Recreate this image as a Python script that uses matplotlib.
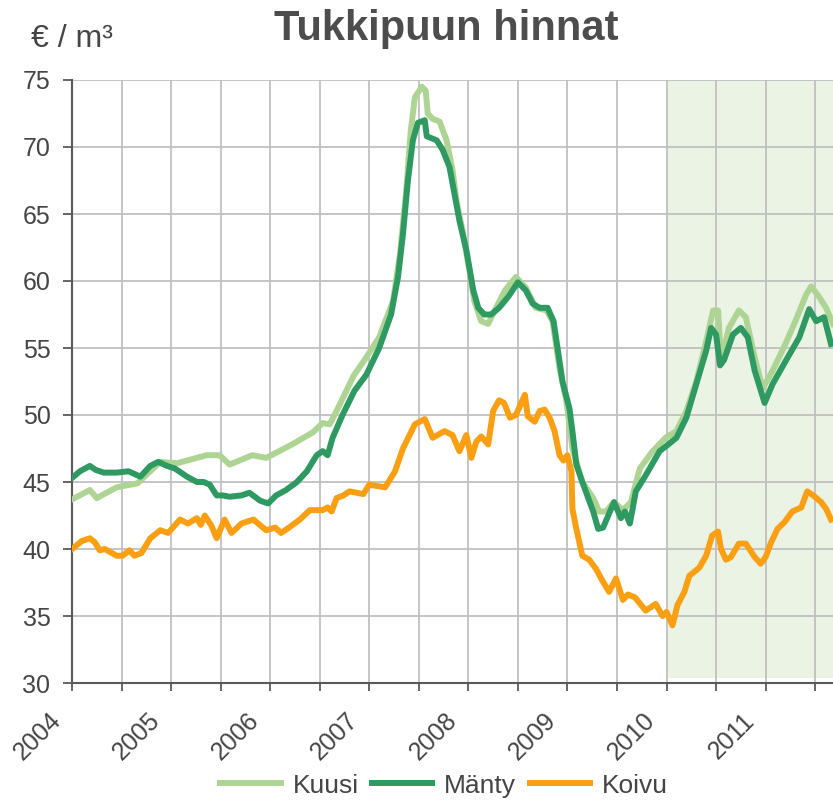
import matplotlib
matplotlib.use('Agg')
import matplotlib.pyplot as plt
from matplotlib.transforms import ScaledTranslation, blended_transform_factory

plt.rcParams['font.family'] = ['Liberation Sans', 'DejaVu Sans']

# Kuusi (spruce)
kuusi_t = [2004.0, 2004.18, 2004.25, 2004.45, 2004.66, 2004.89, 2005.06, 2005.36, 2005.49, 2005.59,
           2005.82, 2005.96, 2006.22, 2006.43, 2006.53, 2006.6, 2006.67, 2006.84, 2006.97, 2007.10,
           2007.24, 2007.31, 2007.37, 2007.42, 2007.46, 2007.53, 2007.57, 2007.59, 2007.64, 2007.71,
           2007.78, 2007.84, 2007.88, 2007.94, 2008.01, 2008.06, 2008.13, 2008.20, 2008.28, 2008.37,
           2008.48, 2008.58, 2008.68, 2008.79, 2008.85, 2008.92, 2008.99, 2009.05, 2009.15, 2009.26,
           2009.32, 2009.39, 2009.47, 2009.56, 2009.64, 2009.73, 2009.86, 2009.99, 2010.10, 2010.20,
           2010.30, 2010.40, 2010.47, 2010.52, 2010.55, 2010.63, 2010.73, 2010.80, 2010.89, 2010.97,
           2011.07, 2011.20, 2011.30, 2011.41, 2011.46, 2011.54, 2011.61, 2011.68]
kuusi_v = [43.7, 44.4, 43.8, 44.6, 44.9, 46.5, 46.4, 47.0, 47.0, 46.3,
           47.0, 46.8, 47.8, 48.7, 49.4, 49.3, 50.3, 52.9, 54.3, 55.8,
           58.5, 62.0, 66.5, 71.3, 73.7, 74.5, 74.2, 72.5, 72.1, 71.9,
           70.5, 68.3, 66.0, 63.8, 60.8, 58.5, 57.0, 56.8, 58.0, 59.3,
           60.3, 59.5, 58.0, 57.8, 57.0, 53.5, 51.0, 47.5, 45.0, 43.8,
           42.8, 42.8, 43.5, 42.9, 43.5, 46.0, 47.3, 48.3, 48.8, 50.3,
           52.5, 55.5, 57.8, 57.8, 54.0, 56.5, 57.8, 57.3, 54.3, 52.0,
           53.3, 55.3, 57.0, 59.0, 59.6, 58.8, 58.0, 56.8]

# Mänty (pine)
manty_t = [2004.0, 2004.08, 2004.18, 2004.24, 2004.32, 2004.45, 2004.57, 2004.63, 2004.69, 2004.79,
           2004.87, 2004.96, 2005.04, 2005.16, 2005.26, 2005.33, 2005.39, 2005.46, 2005.52, 2005.59,
           2005.71, 2005.79, 2005.90, 2005.98, 2006.06, 2006.16, 2006.27, 2006.37, 2006.47, 2006.53,
           2006.58, 2006.63, 2006.73, 2006.85, 2006.97, 2007.10, 2007.22, 2007.29, 2007.34, 2007.39,
           2007.44, 2007.49, 2007.56, 2007.58, 2007.68, 2007.74, 2007.81, 2007.86, 2007.91, 2007.98,
           2008.05, 2008.10, 2008.16, 2008.23, 2008.31, 2008.40, 2008.50, 2008.58, 2008.65, 2008.72,
           2008.80, 2008.86, 2008.90, 2008.95, 2009.02, 2009.05, 2009.09, 2009.15, 2009.26, 2009.31,
           2009.36, 2009.47, 2009.54, 2009.58, 2009.63, 2009.69, 2009.79, 2009.93, 2010.0, 2010.10,
           2010.20, 2010.30, 2010.40, 2010.45, 2010.50, 2010.54, 2010.58, 2010.67, 2010.75, 2010.82,
           2010.89, 2010.99, 2011.07, 2011.20, 2011.34, 2011.44, 2011.51, 2011.59, 2011.66]
manty_v = [45.3, 45.8, 46.2, 45.9, 45.7, 45.7, 45.8, 45.6, 45.4, 46.2,
           46.5, 46.2, 46.0, 45.4, 45.0, 45.0, 44.8, 44.0, 44.0, 43.9,
           44.0, 44.2, 43.6, 43.4, 44.0, 44.4, 45.0, 45.8, 47.0, 47.3,
           47.0, 48.3, 50.0, 51.8, 53.0, 55.0, 57.5, 60.3, 63.5, 67.5,
           70.5, 71.8, 72.0, 70.8, 70.5, 69.8, 68.5, 66.5, 64.5, 62.3,
           59.3, 58.0, 57.5, 57.5, 58.0, 58.8, 59.9, 59.3, 58.3, 58.0,
           58.0, 57.0, 55.0, 52.5, 50.5, 48.8, 46.3, 45.0, 42.8, 41.5,
           41.6, 43.5, 42.3, 42.8, 41.9, 44.3, 45.5, 47.3, 47.7, 48.3,
           49.8, 52.3, 54.8, 56.5, 56.0, 53.7, 54.1, 56.0, 56.5, 55.8,
           53.3, 50.9, 52.3, 54.0, 55.8, 57.9, 57.0, 57.3, 55.3]

# Koivu (birch)
koivu_t = [2004.0, 2004.10, 2004.18, 2004.23, 2004.28, 2004.33, 2004.45, 2004.51, 2004.58, 2004.63,
           2004.70, 2004.79, 2004.89, 2004.97, 2005.09, 2005.17, 2005.26, 2005.30, 2005.34, 2005.41,
           2005.46, 2005.54, 2005.61, 2005.71, 2005.83, 2005.96, 2006.05, 2006.11, 2006.19, 2006.30,
           2006.40, 2006.53, 2006.58, 2006.62, 2006.67, 2006.74, 2006.80, 2006.94, 2007.0, 2007.16,
           2007.26, 2007.34, 2007.46, 2007.56, 2007.64, 2007.76, 2007.84, 2007.91, 2007.98, 2008.03,
           2008.08, 2008.13, 2008.20, 2008.25, 2008.31, 2008.36, 2008.42, 2008.48, 2008.57, 2008.60,
           2008.67, 2008.72, 2008.77, 2008.82, 2008.87, 2008.92, 2008.96, 2009.0, 2009.04, 2009.05,
           2009.09, 2009.15, 2009.22, 2009.29, 2009.34, 2009.42, 2009.49, 2009.56, 2009.61, 2009.68,
           2009.79, 2009.89, 2009.96, 2010.0, 2010.06, 2010.11, 2010.18, 2010.23, 2010.33, 2010.40,
           2010.46, 2010.52, 2010.55, 2010.60, 2010.65, 2010.73, 2010.80, 2010.89, 2010.95, 2011.0,
           2011.05, 2011.12, 2011.19, 2011.27, 2011.36, 2011.42, 2011.48, 2011.56, 2011.61, 2011.66]
koivu_v = [40.0, 40.6, 40.8, 40.5, 39.9, 40.0, 39.5, 39.5, 39.9, 39.5,
           39.7, 40.8, 41.4, 41.2, 42.2, 41.9, 42.3, 41.8, 42.5, 41.7,
           40.8, 42.2, 41.2, 41.9, 42.2, 41.4, 41.6, 41.2, 41.6, 42.2,
           42.9, 42.9, 43.1, 42.8, 43.8, 44.0, 44.3, 44.1, 44.8, 44.6,
           45.8, 47.5, 49.3, 49.7, 48.3, 48.8, 48.5, 47.3, 48.5, 46.8,
           48.0, 48.4, 47.8, 50.3, 51.1, 50.9, 49.8, 50.0, 51.5, 49.9,
           49.5, 50.3, 50.4, 49.8, 48.8, 47.0, 46.6, 47.0, 45.8, 43.0,
           41.5, 39.5, 39.2, 38.5, 37.8, 36.8, 37.8, 36.2, 36.6, 36.4,
           35.4, 35.9, 35.0, 35.3, 34.3, 35.8, 36.8, 38.0, 38.6, 39.5,
           41.0, 41.3, 40.0, 39.2, 39.4, 40.4, 40.4, 39.4, 38.9, 39.4,
           40.4, 41.5, 42.0, 42.8, 43.1, 44.3, 44.0, 43.5, 43.0, 42.2]

years = [2004, 2005, 2006, 2007, 2008, 2009, 2010, 2011]
forecast_start = 2010.0

c_kuusi = '#aed494'
c_manty = '#2e9a62'
c_koivu = '#fa9f12'
text_col = '#454545'

fig = plt.figure(figsize=(8.33, 8.05), dpi=100)
ax = fig.add_axes([72/833, 1-683/805, 1-72/833, (683-80)/805])

ax.axvspan(forecast_start, 2011.68, ymin=0.008, color='#ebf3e4', lw=0, zorder=0)

ax.plot(kuusi_t, kuusi_v, color=c_kuusi, lw=4.3, label='Kuusi', zorder=3)
ax.plot(manty_t, manty_v, color=c_manty, lw=4.3, label='Mänty', zorder=4)
ax.plot(koivu_t, koivu_v, color=c_koivu, lw=4.3, label='Koivu', zorder=5)

ax.set_xlim(2004, 2011.68)
ax.set_ylim(30, 75)
ax.set_yticks(range(30, 80, 5))

half_ticks = [y + h for y in years for h in (0.0, 0.5)]
ax.set_xticks(half_ticks)
ax.set_xticklabels([])

# rotated year labels, placed below-left of each year tick
trans = blended_transform_factory(ax.transData, ax.transAxes)
for y in years:
    ax.text(y, 0, str(y), rotation=45, ha='right', va='center', rotation_mode='anchor',
            fontsize=18, color=text_col,
            transform=trans + ScaledTranslation(-15/100, -34/100, fig.dpi_scale_trans))

ax.grid(True, color='#c0c0c0', lw=1.3, zorder=1)
ax.set_axisbelow(True)
for s in ['top', 'right']:
    ax.spines[s].set_visible(False)
for s in ['left', 'bottom']:
    ax.spines[s].set_color('#595959')
    ax.spines[s].set_linewidth(1.5)
ax.tick_params(axis='y', length=6.5, width=1.3, color='#595959', pad=9, labelsize=18, labelcolor=text_col)
ax.tick_params(axis='x', length=6, width=1.3, color='#595959')

fig.text(0.536, 0.964, 'Tukkipuun hinnat', ha='center', va='center', fontsize=30,
         fontweight='bold', color='#4d4d4d')
fig.text(0.037, 0.952, '€ / m³', ha='left', va='center', fontsize=23, color=text_col)

leg = fig.legend(loc='center', bbox_to_anchor=(0.533, 0.024), ncol=3, frameon=False,
                 fontsize=19, handlelength=2.3, handletextpad=0.45, columnspacing=0.5,
                 labelcolor=text_col)

fig.savefig('out.png', dpi=100)
